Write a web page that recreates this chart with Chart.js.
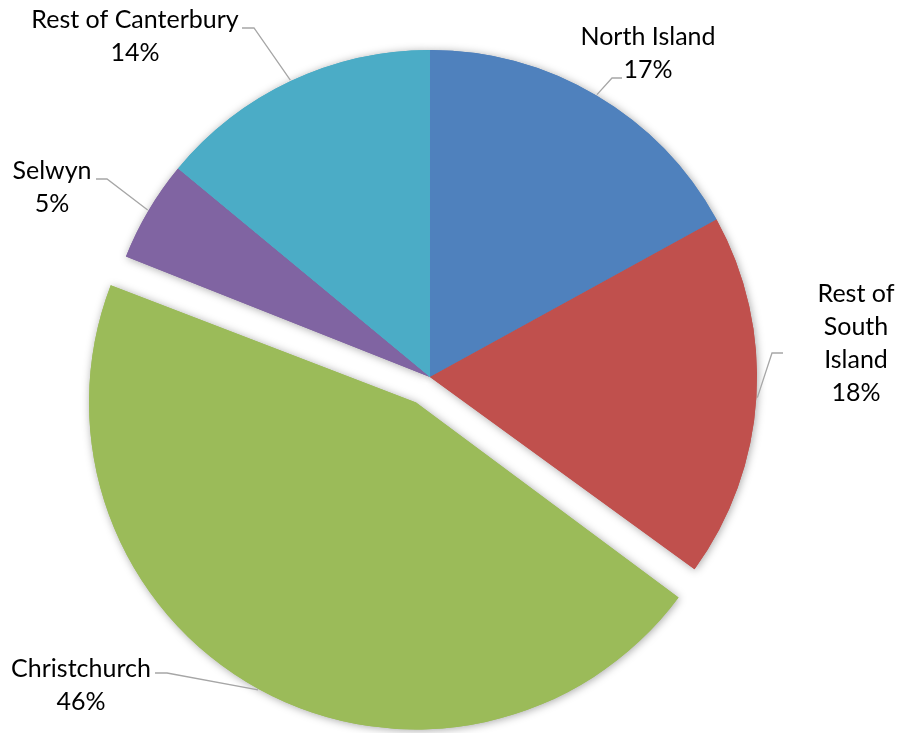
<!DOCTYPE html>
<html>
<head>
<meta charset="utf-8">
<script src="https://cdn.jsdelivr.net/npm/chart.js@4"></script>
<style>
  html, body { margin: 0; padding: 0; background: #fff; }
  #wrap { width: 900px; height: 733px; }
</style>
</head>
<body>
<div id="wrap"><canvas id="pie"></canvas></div>
<script>
const regions = ['North Island', 'Rest of South Island', 'Christchurch', 'Selwyn', 'Rest of Canterbury'];
const shares = [17, 18, 46, 5, 14];
const colours = ['#4F81BD', '#C0504D', '#9BBB59', '#8064A2', '#4BACC6'];
const explode = [0, 0, 116, 0, 0];

// how each region name wraps in its label
const labelLines = [['North Island'], ['Rest of', 'South', 'Island'], ['Christchurch'], ['Selwyn'], ['Rest of Canterbury']];

// label centre x / first baseline, and the elbow + end of each leader line
const labelPos = [
  { x: 648, y: 45,  elbow: [612, 78],  end: [622, 78] },
  { x: 856, y: 302, elbow: [772, 353], end: [783, 353] },
  { x: 81,  y: 677, elbow: [167, 673], end: [155, 673] },
  { x: 52,  y: 179, elbow: [107, 179], end: [96, 179] },
  { x: 135, y: 28,  elbow: [254, 28],  end: [242, 28] },
];
const lineGap = 33;

// Chart.js grows the radius of an offset arc; shrink it back so the
// exploded slice keeps the same size, and draw a soft shadow pass first.
const sliceTweaks = {
  id: 'sliceTweaks',
  beforeDatasetsDraw(chart) {
    const ctx = chart.ctx;
    const arcs = chart.getDatasetMeta(0).data;
    this.saved = arcs.map(a => a.outerRadius);
    arcs.forEach(a => {
      const d = (a.options.offset || 0) / 4;
      if (d) {
        const fix = 1 - Math.sin(Math.min(Math.PI, a.circumference));
        a.outerRadius -= d * fix;
      }
    });
    ctx.save();
    ctx.shadowColor = 'rgba(0,0,0,0.35)';
    ctx.shadowBlur = 8;
    ctx.shadowOffsetX = 1;
    ctx.shadowOffsetY = 1;
    arcs.forEach(a => a.draw(ctx));
    ctx.restore();
  },
  afterDatasetsDraw(chart) {
    const ctx = chart.ctx;
    const arcs = chart.getDatasetMeta(0).data;
    arcs.forEach((a, i) => { a.outerRadius = this.saved[i]; });

    ctx.save();
    arcs.forEach((a, i) => {
      const mid = (a.startAngle + a.endAngle) / 2;
      const d = (a.options.offset || 0) / 4;
      const r = a.outerRadius + d + 1;
      const ax = a.x + Math.cos(mid) * r;
      const ay = a.y + Math.sin(mid) * r;
      const p = labelPos[i];

      ctx.strokeStyle = '#A6A6A6';
      ctx.lineWidth = 1.3;
      ctx.beginPath();
      ctx.moveTo(ax, ay);
      ctx.lineTo(p.elbow[0], p.elbow[1]);
      ctx.lineTo(p.end[0], p.end[1]);
      ctx.stroke();

      const lines = labelLines[i].concat([shares[i] + '%']);
      ctx.fillStyle = '#000';
      ctx.font = '25px Lato';
      ctx.textAlign = 'center';
      ctx.textBaseline = 'alphabetic';
      lines.forEach((t, k) => ctx.fillText(t, p.x, p.y + k * lineGap));
    });
    ctx.restore();
  }
};

new Chart(document.getElementById('pie'), {
  type: 'pie',
  data: {
    labels: regions,
    datasets: [{
      data: shares,
      backgroundColor: colours,
      borderWidth: 0,
      offset: explode,
      hoverOffset: 0,
    }],
  },
  options: {
    responsive: true,
    maintainAspectRatio: false,
    animation: false,
    events: [],
    radius: 327,
    layout: { padding: { left: 0, right: 40, top: 21, bottom: 0 } },
    plugins: {
      legend: { display: false },
      tooltip: { enabled: false },
      title: { display: false },
    },
  },
  plugins: [sliceTweaks],
});
</script>
</body>
</html>
